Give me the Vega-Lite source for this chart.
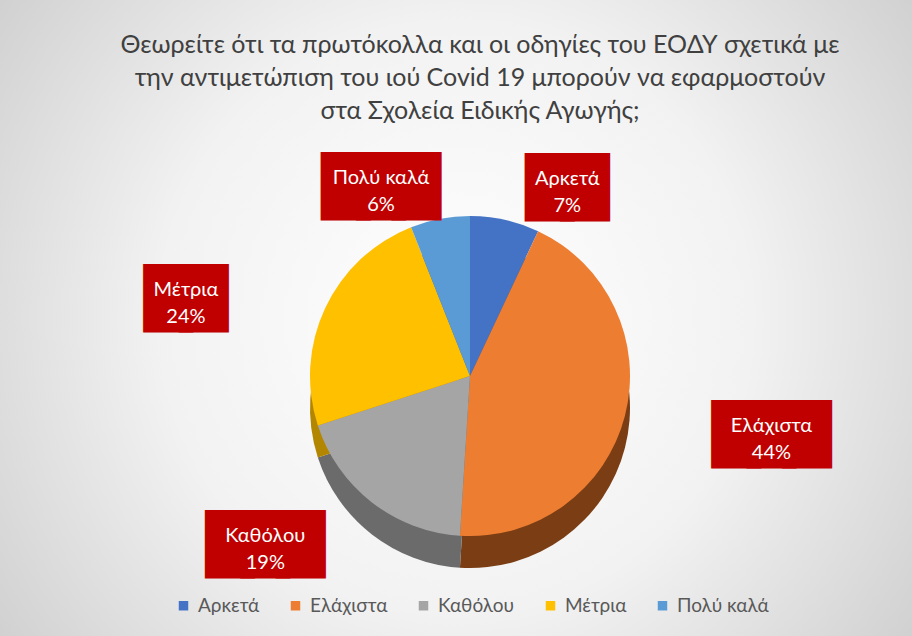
{
  "$schema": "https://vega.github.io/schema/vega-lite/v6.json",
  "width": 912,
  "height": 636,
  "autosize": {"type": "none"},
  "padding": 0,
  "background": "#d4d4d4",
  "view": {
    "fill": {
      "gradient": "radial",
      "x1": 0.5, "y1": 0.5, "x2": 0.5, "y2": 0.5, "r1": 0, "r2": 0.72,
      "stops": [
        {"offset": 0, "color": "#ffffff"},
        {"offset": 0.45, "color": "#f2f2f2"},
        {"offset": 1, "color": "#c4c4c4"}
      ]
    },
    "stroke": null
  },
  "title": {
    "text": [
      "Θεωρείτε ότι τα πρωτόκολλα και οι οδηγίες του ΕΟΔΥ σχετικά με",
      "την αντιμετώπιση του ιού Covid 19  μπορούν να εφαρμοστούν",
      "στα Σχολεία Ειδικής Αγωγής;"
    ],
    "font": "Lato",
    "fontSize": 25,
    "fontWeight": "normal",
    "color": "#404040",
    "lineHeight": 33,
    "anchor": "middle",
    "dx": 24,
    "offset": -124
  },
  "data": {
    "values": [
      {"category": "Αρκετά", "value": 7},
      {"category": "Ελάχιστα", "value": 44},
      {"category": "Καθόλου", "value": 19},
      {"category": "Μέτρια", "value": 24},
      {"category": "Πολύ καλά", "value": 6}
    ]
  },
  "transform": [
    {"calculate": "datum.category + '\\n' + datum.value + '%'", "as": "label"},
    {"calculate": "datum.category.length > 6 ? '███' : '██'", "as": "box"}
  ],
  "encoding": {
    "theta": {"field": "value", "type": "quantitative", "stack": true},
    "order": {"field": "category", "type": "nominal", "sort": "ascending"}
  },
  "resolve": {"scale": {"color": "independent"}},
  "layer": [
    {
      "mark": {"type": "arc", "outerRadius": 160, "xOffset": 14, "yOffset": 90},
      "encoding": {
        "color": {
          "field": "category", "type": "nominal",
          "scale": {
            "domain": ["Αρκετά", "Ελάχιστα", "Καθόλου", "Μέτρια", "Πολύ καλά"],
            "range": ["#2F528F", "#7A3D14", "#6B6B6B", "#B38600", "#3E6E9B"]
          },
          "legend": null
        }
      }
    },
    {
      "mark": {"type": "arc", "outerRadius": 160, "xOffset": 14, "yOffset": 58},
      "encoding": {
        "color": {
          "field": "category", "type": "nominal",
          "scale": {
            "domain": ["Αρκετά", "Ελάχιστα", "Καθόλου", "Μέτρια", "Πολύ καλά"],
            "range": ["#4472C4", "#ED7D31", "#A5A5A5", "#FFC000", "#5B9BD5"]
          },
          "legend": {
            "title": null,
            "orient": "none",
            "legendX": 174,
            "legendY": 596,
            "direction": "horizontal",
            "symbolType": "square",
            "symbolSize": 90,
            "symbolStrokeWidth": 0,
            "labelFont": "Lato",
            "labelFontSize": 19,
            "labelColor": "#595959",
            "columnPadding": 26,
            "labelOffset": 5
          }
        }
      }
    },
    {
      "mark": {
        "type": "text", "radius": 202, "xOffset": 14, "yOffset": 58, "dy": 10,
        "dx": {"expr": "70 * sin(PI * (datum.value_start + datum.value_end) / 100) + (sin(PI * (datum.value_start + datum.value_end) / 100) > 0 ? 38 : -38)"},
        "font": "DejaVu Sans", "fontSize": 46,
        "fill": "#C00000", "stroke": "#C00000", "strokeWidth": 14, "strokeJoin": "miter",
        "align": "center", "baseline": "middle"
      },
      "encoding": {"text": {"field": "box"}}
    },
    {
      "mark": {
        "type": "text", "radius": 202, "xOffset": 14, "yOffset": 58,
        "dx": {"expr": "70 * sin(PI * (datum.value_start + datum.value_end) / 100) + (sin(PI * (datum.value_start + datum.value_end) / 100) > 0 ? 38 : -38)"},
        "font": "Lato", "fontSize": 20, "fill": "#ffffff",
        "lineBreak": "\n", "lineHeight": 27,
        "align": "center", "baseline": "middle"
      },
      "encoding": {"text": {"field": "label"}}
    }
  ]
}
